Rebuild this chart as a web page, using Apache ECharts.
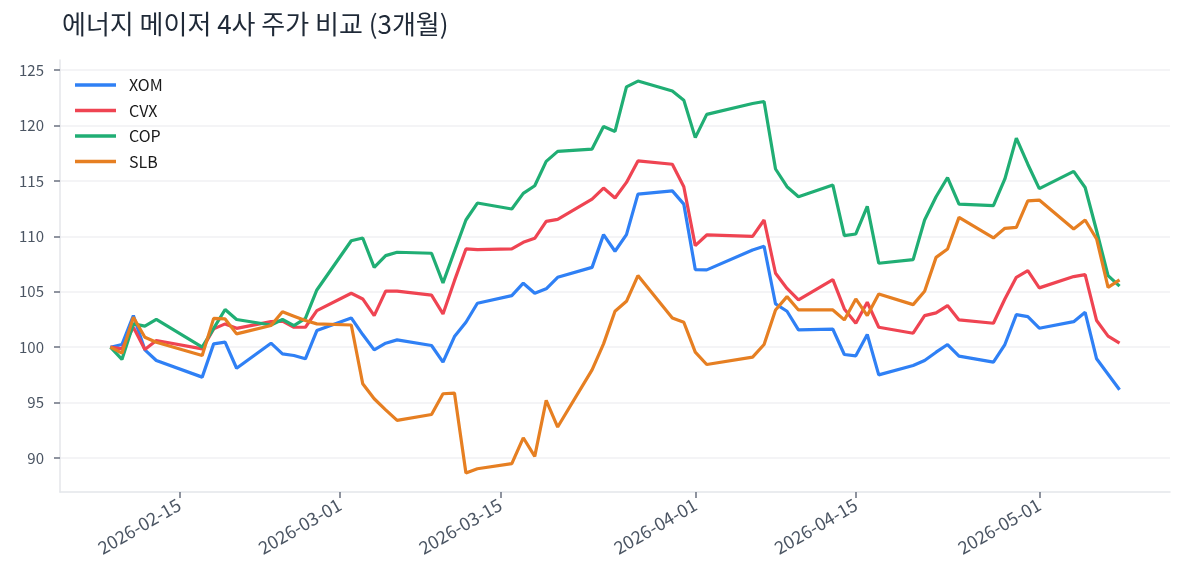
<!DOCTYPE html>
<html>
<head>
<meta charset="utf-8">
<script src="https://cdn.jsdelivr.net/npm/echarts@6/dist/echarts.min.js"></script>
<style>
  html, body { margin: 0; padding: 0; background: #fff; }
  #chart { width: 1185px; height: 585px; }
</style>
</head>
<body>
<div id="chart"></div>
<script>
// 거래일 (2026-02-09 ~ 2026-05-08)
const dates = [
  "2026-02-09", "2026-02-10", "2026-02-11", "2026-02-12", "2026-02-13",
  "2026-02-17", "2026-02-18", "2026-02-19", "2026-02-20",
  "2026-02-23", "2026-02-24", "2026-02-25", "2026-02-26", "2026-02-27",
  "2026-03-02", "2026-03-03", "2026-03-04", "2026-03-05", "2026-03-06",
  "2026-03-09", "2026-03-10", "2026-03-11", "2026-03-12", "2026-03-13",
  "2026-03-16", "2026-03-17", "2026-03-18", "2026-03-19", "2026-03-20",
  "2026-03-23", "2026-03-24", "2026-03-25", "2026-03-26", "2026-03-27",
  "2026-03-30", "2026-03-31", "2026-04-01", "2026-04-02",
  "2026-04-06", "2026-04-07", "2026-04-08", "2026-04-09", "2026-04-10",
  "2026-04-13", "2026-04-14", "2026-04-15", "2026-04-16", "2026-04-17",
  "2026-04-20", "2026-04-21", "2026-04-22", "2026-04-23", "2026-04-24",
  "2026-04-27", "2026-04-28", "2026-04-29", "2026-04-30", "2026-05-01",
  "2026-05-04", "2026-05-05", "2026-05-06", "2026-05-07", "2026-05-08"
];

// 첫날 = 100 기준 정규화 주가
const xom = [
  100, 100.24, 102.85, 99.76, 98.8, 97.3, 100.3, 100.45, 98.1, 100.36, 99.4, 99.25, 98.95, 101.5,
  102.64, 101.14, 99.76, 100.36, 100.66, 100.15, 98.65, 100.96, 102.25, 103.96,
  104.65, 105.77, 104.86, 105.26, 106.3, 107.2, 110.15, 108.65, 110.15, 113.8, 114.1, 112.9,
  107.0, 106.97, 108.77, 109.1, 103.9, 103.24, 101.56, 101.62, 99.34, 99.22, 101.14, 97.5,
  98.35, 98.8, 99.55, 100.24, 99.19, 98.65, 100.24, 102.94, 102.76,
  101.71, 102.3, 103.15, 98.95, 97.56, 96.16
];
const cvx = [
  100, 99.85, 101.8, 99.8, 100.6, 99.85, 101.65, 102.1, 101.7, 102.3, 102.35, 101.8, 101.8, 103.3,
  104.86, 104.35, 102.85, 105.05, 105.05, 104.7, 103.0, 106.0, 108.86, 108.8,
  108.86, 109.46, 109.82, 111.35, 111.53, 113.36, 114.35, 113.45, 114.86, 116.8, 116.5, 114.47,
  109.16, 110.12, 110.0, 111.47, 106.67, 105.3, 104.26, 106.1, 103.45, 102.16, 104.05, 101.8,
  101.26, 102.85, 103.09, 103.75, 102.46, 102.16, 104.35, 106.3, 106.9,
  105.35, 106.37, 106.55, 102.4, 101.0, 100.36
];
const cop = [
  100, 98.9, 102.1, 101.9, 102.5, 100.0, 101.7, 103.4, 102.5, 102.0, 102.5, 101.95, 102.6, 105.16,
  109.6, 109.85, 107.2, 108.26, 108.56, 108.47, 105.8, 108.65, 111.47, 113.0,
  112.46, 113.87, 114.56, 116.76, 117.66, 117.87, 119.9, 119.46, 123.48, 124.0, 123.1, 122.28,
  118.9, 121.0, 121.98, 122.16, 116.07, 114.47, 113.57, 114.62, 110.06, 110.21, 112.7, 107.57,
  107.9, 111.47, 113.57, 115.3, 112.9, 112.76, 115.17, 118.86, 116.5,
  114.3, 115.85, 114.4, 110.5, 106.46, 105.5
];
const slb = [
  100, 99.46, 102.7, 100.9, 100.45, 99.25, 102.6, 102.55, 101.2, 101.95, 103.2, 102.8, 102.4, 102.1,
  102.0, 96.7, 95.35, 94.35, 93.4, 93.93, 95.8, 95.86, 88.65, 89.04,
  89.5, 91.83, 90.15, 95.2, 92.8, 97.96, 100.3, 103.24, 104.14, 106.46, 102.64, 102.25,
  99.55, 98.44, 99.1, 100.24, 103.36, 104.56, 103.36, 103.36, 102.46, 104.35, 102.85, 104.8,
  103.84, 105.05, 108.1, 108.86, 111.71, 109.85, 110.72, 110.8, 113.2,
  113.27, 110.66, 111.47, 109.76, 105.4, 106.07
];

const tickers = ["XOM", "CVX", "COP", "SLB"];
const colors = ["#2f80f5", "#ef4452", "#20ae74", "#e67f22"];
const xTicks = ["2026-02-15", "2026-03-01", "2026-03-15", "2026-04-01", "2026-04-15", "2026-05-01"];
const yTicks = [90, 95, 100, 105, 110, 115, 120, 125];

function ts(s) {
  const p = s.split("-").map(Number);
  return new Date(p[0], p[1] - 1, p[2]).getTime();
}

const DAY = 86400000;
const xMin = ts(dates[0]) - 4.4 * DAY;
const xMax = ts(dates[dates.length - 1]) + 4.4 * DAY;
const xTickVals = xTicks.map(ts);

const chart = echarts.init(document.getElementById("chart"));
const font = "'Noto Sans CJK KR', 'Noto Sans', sans-serif";

const option = {
  animation: false,
  color: colors,
  textStyle: { fontFamily: font },
  title: {
    text: "에너지 메이저 4사 주가 비교 (3개월)",
    left: 57,
    top: 6,
    textStyle: { fontSize: 26, fontWeight: "normal", color: "#1f2937", fontFamily: font }
  },
  legend: {
    orient: "vertical",
    left: 70,
    top: 72,
    icon: "rect",
    itemWidth: 41,
    itemHeight: 3.5,
    itemGap: 9.5,
    data: tickers,
    textStyle: { fontSize: 16, color: "#1a1a1a", lineHeight: 16, padding: [0, 0, 0, 8] }
  },
  grid: { left: 60, right: 15, top: 60, bottom: 93 },
  // 날짜는 타임스탬프 값 축으로 처리 (눈금 위치 직접 지정)
  xAxis: {
    type: "value",
    min: xMin,
    max: xMax,
    axisLine: { lineStyle: { color: "#e4e6ea", width: 1.5 } },
    axisTick: { show: true, length: 6, lineStyle: { color: "#6b7280", width: 1.5 }, customValues: xTickVals },
    axisLabel: {
      customValues: xTickVals,
      rotate: 30,
      margin: 11,
      fontSize: 18,
      color: "#4b5563",
      formatter: v => echarts.time.format(v, "{yyyy}-{MM}-{dd}", false)
    },
    splitLine: { show: false }
  },
  yAxis: {
    type: "value",
    min: 86.94,
    max: 125.9,
    axisLine: { show: true, lineStyle: { color: "#e4e6ea", width: 1.5 } },
    axisTick: { show: true, length: 6, lineStyle: { color: "#6b7280", width: 1.5 }, customValues: yTicks },
    axisLabel: { customValues: yTicks, margin: 16, fontSize: 15, color: "#4b5563" },
    splitLine: { show: true, lineStyle: { color: "#f0f1f3", width: 1.5 } }
  },
  series: [xom, cvx, cop, slb].map((vals, i) => ({
    name: tickers[i],
    type: "line",
    symbol: "none",
    lineStyle: { width: 3.2 },
    data: dates.map((d, j) => [ts(d), vals[j]])
  }))
};

chart.setOption(option);
</script>
</body>
</html>
